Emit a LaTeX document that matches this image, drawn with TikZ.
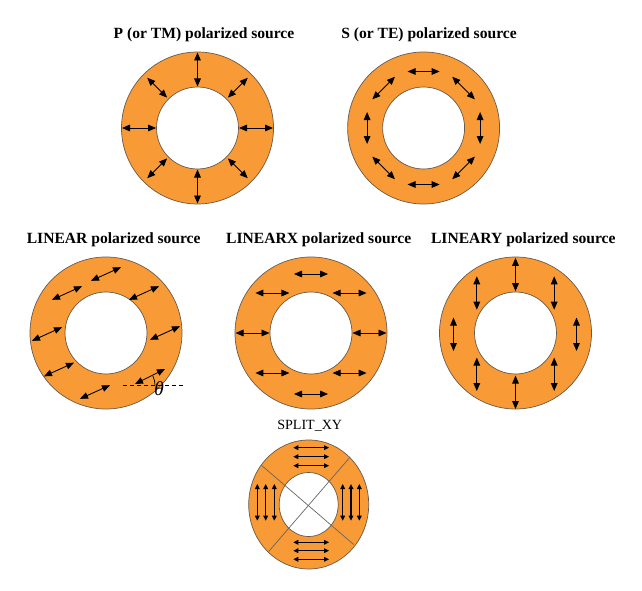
\documentclass[tikz,border=0pt]{standalone}
\usepackage{fontspec}
\setmainfont{Liberation Serif}
\usetikzlibrary{arrows.meta}

\definecolor{ringorange}{RGB}{248,154,54}
\definecolor{ringedge}{RGB}{105,90,75}

\begin{document}
\begin{tikzpicture}[
    x=0.03cm, y=-0.03cm,
    ring/.style={fill=ringorange, draw=ringedge, line width=0.6pt, even odd rule},
    pol/.style={{Triangle[length=2.4mm,width=2mm]}-{Triangle[length=2.4mm,width=2mm]}, line width=0.75pt},
    splitpol/.style={{Triangle[length=1.5mm,width=1.4mm]}-{Triangle[length=1.5mm,width=1.4mm]}, line width=1pt},
    divider/.style={draw=gray!80!black, line width=0.6pt},
    title/.style={font=\bfseries\fontsize{13.3}{15}\selectfont},
    plaintitle/.style={font=\fontsize{12}{14}\selectfont}
  ]
    \useasboundingbox (0,0) rectangle (642,591);

    % ring centres
    \coordinate (P) at (197.5,128);
    \coordinate (S) at (423.6,128);
    \coordinate (L) at (106,333);
    \coordinate (LX) at (311,333);
    \coordinate (LY) at (515.5,333);
    \coordinate (X) at (308.7,504.5);

    % titles
    \node[title] (tP) at (204,35) {P (or TM) polarized source};
    \node[title] (tS) at (429,35) {S (or TE) polarized source};
    \node[title] (tL) at (113.7,240) {LINEAR polarized source};
    \node[title] (tLX) at (318.7,240) {LINEARX polarized source};
    \node[title] (tLY) at (523.3,240) {LINEARY polarized source};
    \node[plaintitle] (tX) at (309.7,425.7) {SPLIT\_XY};

    % P: radial
    \begin{scope}[shift={(P)}]
      \draw[ring] (0,0) circle (76) (0,0) circle (41);
      \foreach \a/\ri/\ro in {0/41.5/75.5, 90/41.5/75.5, 180/41.5/75.5, 270/41.5/75.5,
                              45/43/71, 135/43/71, 225/43/71, 315/43/71}
        \draw[pol, rotate=\a] (\ri,0) -- (\ro,0);
    \end{scope}

    % S: tangential
    \begin{scope}[shift={(S)}]
      \draw[ring] (0,0) circle (76) (0,0) circle (41);
      \foreach \a in {0,45,...,315}
        \draw[pol, rotate=\a] (56.5,-16) -- (56.5,16);
    \end{scope}

    % LINEAR: tilted
    \begin{scope}[shift={(L)}]
      \draw[ring] (0,0) circle (76) (0,0) circle (41);
      \foreach \dx/\dy in {0/-59, -39/-40, 38/-40, -59/1, 59/0, -47/36.5, -11/59}
        \draw[pol] (\dx-15,\dy+6.8) -- (\dx+15,\dy-6.8);
    \end{scope}
    \coordinate (tail) at (135,384);
    \draw[pol] (tail) -- (165,369);
    \draw[dashed, line width=0.6pt] (123,385) -- (183,385);
    \draw[line width=0.6pt] (155,385) arc[start angle=0, end angle=-27, radius=20];
    \node[font=\itshape\fontsize{17}{17}\selectfont, inner sep=0pt] (theta) at (159,389) {θ};

    % LINEARX: horizontal
    \begin{scope}[shift={(LX)}]
      \draw[ring] (0,0) circle (76) (0,0) circle (41);
      \foreach \dx/\dy in {0/-59, -38.6/-40, 38.6/-40, -58.5/0, 58.5/0, -38.6/40, 38.6/40, 0/61}
        \draw[pol] (\dx-17,\dy) -- (\dx+17,\dy);
    \end{scope}

    % LINEARY: vertical
    \begin{scope}[shift={(LY)}]
      \draw[ring] (0,0) circle (76) (0,0) circle (41);
      \foreach \dx/\dy in {0/-58.5, -38.7/-40, 38.7/-40, -62/1.3, 61/1.3, -38.7/41.3, 38.7/41.3, 0/59.3}
        \draw[pol] (\dx,\dy-16.7) -- (\dx,\dy+16.7);
    \end{scope}

    % SPLIT_XY: four sectors
    \begin{scope}[shift={(X)}]
      \fill[ringorange, even odd rule] (0,0) ellipse [x radius=60, y radius=64.5]
        (0,0) ellipse [x radius=29.5, y radius=32];
      \draw[divider] (-47,-39) -- (45,40);
      \draw[divider] (41,-47) -- (-40,47);
      \draw[draw=ringedge, line width=0.6pt] (0,0) ellipse [x radius=60, y radius=64.5]
        (0,0) ellipse [x radius=29.5, y radius=32];
      \foreach \y in {-56.8,-47.8,-38.8,37.8,46.2,54.8}
        \draw[splitpol] (-15.4,\y) -- (20.3,\y);
      \foreach \x in {-51.4,-43,-34.4,34,42.3,50.6}
        \draw[splitpol] (\x,-20.5) -- (\x,16.2);
    \end{scope}
  \end{tikzpicture}
\end{document}
